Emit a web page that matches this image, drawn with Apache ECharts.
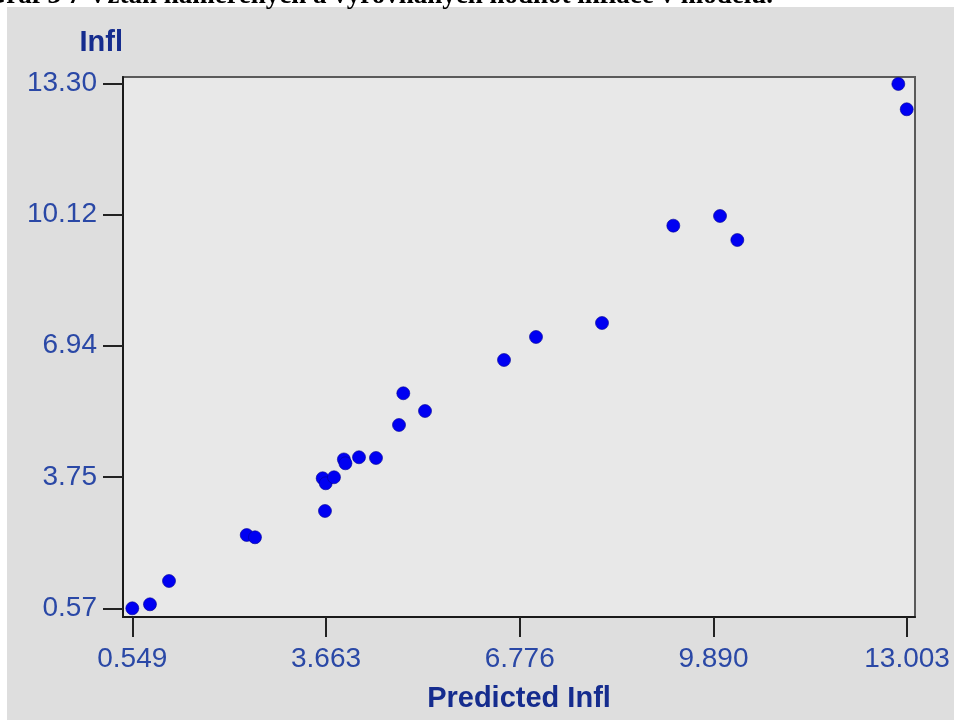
<!DOCTYPE html>
<html>
<head>
<meta charset="utf-8">
<script src="https://cdn.jsdelivr.net/npm/echarts@6/dist/echarts.min.js"></script>
<style>
html,body{margin:0;padding:0;background:#ffffff;}
#chart{width:954px;height:720px;}
</style>
</head>
<body>
<div id="chart"></div>
<script>
var titleText = 'Graf 3 7 Vztah naměřených a vyrovnaných hodnot inflace v modelu.';
var xName = 'Predicted Infl';
var yName = 'Infl';
var xTickValues = [0.549, 3.663, 6.776, 9.890, 13.003];
var xTickLabels = ['0.549', '3.663', '6.776', '9.890', '13.003'];
var yTickValues = [0.57, 3.75, 6.94, 10.12, 13.30];
var yTickLabels = ['0.57', '3.75', '6.94', '10.12', '13.30'];
var predicted = [0.549, 0.833, 1.139, 2.388, 2.521, 3.646, 3.609, 3.658, 3.791, 3.950, 3.975, 4.193, 4.466, 4.836, 4.905, 5.254, 6.524, 7.038, 8.099, 9.245, 9.996, 10.274, 12.862, 12.997];
var actual    = [0.570, 0.667, 1.232, 2.347, 2.292, 2.930, 3.723, 3.601, 3.747, 4.180, 4.086, 4.232, 4.215, 5.015, 5.784, 5.354, 6.591, 7.149, 7.488, 9.848, 10.083, 9.500, 13.284, 12.670];

var points = predicted.map(function (p, i) { return [p, actual[i]]; });
var labelColor = '#2a48a6';
var nameColor = '#152c8e';

var chart = echarts.init(document.getElementById('chart'), null, {renderer: 'canvas'});
chart.setOption({
  backgroundColor: '#ffffff',
  animation: false,
  graphic: [
    {type: 'rect', z: -10, shape: {x: 7, y: 7, width: 947, height: 713}, style: {fill: '#dedede'}},
    {type: 'text', z: 10, x: 773, y: -4, style: {text: titleText, fill: '#000000', font: 'bold 27px "Liberation Serif"', align: 'right', verticalAlign: 'middle'}}
  ],
  grid: {left: 123, top: 77, right: 39, bottom: 103, show: true, backgroundColor: '#e8e8e8', borderColor: '#5a5a5a', borderWidth: 2},
  xAxis: {
    type: 'value', min: 0.3995, max: 13.13,
    name: xName, nameLocation: 'middle', nameGap: 67,
    nameTextStyle: {color: nameColor, fontFamily: 'Liberation Sans', fontWeight: 'bold', fontSize: 29},
    axisLine: {show: true, onZero: false, lineStyle: {color: '#1a1a1a', width: 2}},
    axisTick: {show: true, inside: false, length: 20, lineStyle: {color: '#222222', width: 2}, customValues: xTickValues},
    axisLabel: {show: true, margin: 28, color: labelColor, fontFamily: 'Liberation Sans', fontSize: 28, customValues: xTickValues,
      formatter: function (v) { var i = xTickValues.indexOf(v); return i >= 0 ? xTickLabels[i] : ''; }},
    splitLine: {show: false}
  },
  yAxis: {
    type: 'value', min: 0.359, max: 13.453,
    name: yName, nameLocation: 'end', nameGap: 20,
    nameTextStyle: {color: nameColor, fontFamily: 'Liberation Sans', fontWeight: 'bold', fontSize: 29, align: 'right', verticalAlign: 'bottom'},
    axisLine: {show: true, onZero: false, lineStyle: {color: '#1a1a1a', width: 2}},
    axisTick: {show: true, inside: false, length: 20, lineStyle: {color: '#222222', width: 2}, customValues: yTickValues},
    axisLabel: {show: true, margin: 26, color: labelColor, fontFamily: 'Liberation Sans', fontSize: 28, customValues: yTickValues,
      formatter: function (v) { var i = yTickValues.indexOf(v); return i >= 0 ? yTickLabels[i] : ''; }},
    splitLine: {show: false}
  },
  series: [{
    type: 'scatter',
    data: points,
    symbol: 'circle',
    symbolSize: 13,
    itemStyle: {color: '#0000f2', borderColor: '#000090', borderWidth: 0.6, opacity: 1}
  }]
});
</script>
</body>
</html>
